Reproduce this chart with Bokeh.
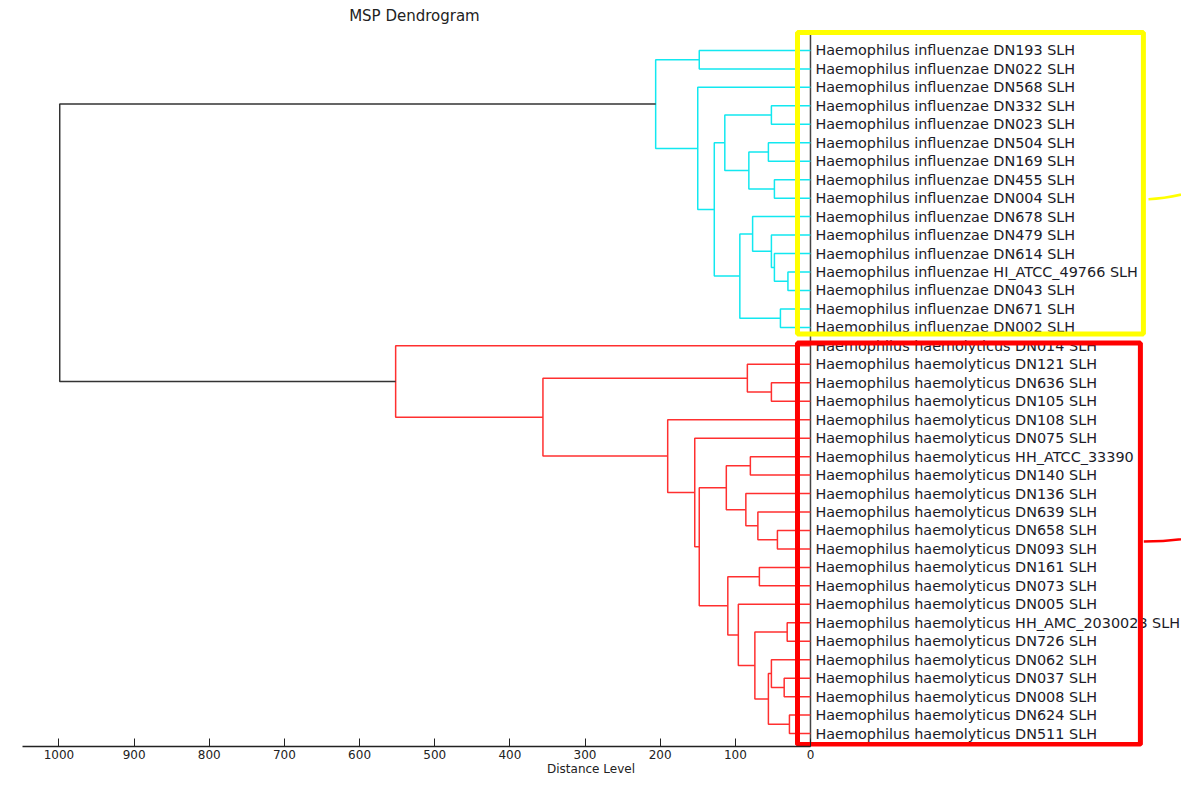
from bokeh.plotting import figure
from bokeh.models import Range1d, FixedTicker, Label, ColumnDataSource
from bokeh.core.properties import value
from bokeh.embed import file_html
from bokeh.resources import INLINE

# ---------------- data ----------------
leaf_labels = [
    "Haemophilus influenzae DN193 SLH",
    "Haemophilus influenzae DN022 SLH",
    "Haemophilus influenzae DN568 SLH",
    "Haemophilus influenzae DN332 SLH",
    "Haemophilus influenzae DN023 SLH",
    "Haemophilus influenzae DN504 SLH",
    "Haemophilus influenzae DN169 SLH",
    "Haemophilus influenzae DN455 SLH",
    "Haemophilus influenzae DN004 SLH",
    "Haemophilus influenzae DN678 SLH",
    "Haemophilus influenzae DN479 SLH",
    "Haemophilus influenzae DN614 SLH",
    "Haemophilus influenzae HI_ATCC_49766 SLH",
    "Haemophilus influenzae DN043 SLH",
    "Haemophilus influenzae DN671 SLH",
    "Haemophilus influenzae DN002 SLH",
    "Haemophilus haemolyticus DN014 SLH",
    "Haemophilus haemolyticus DN121 SLH",
    "Haemophilus haemolyticus DN636 SLH",
    "Haemophilus haemolyticus DN105 SLH",
    "Haemophilus haemolyticus DN108 SLH",
    "Haemophilus haemolyticus DN075 SLH",
    "Haemophilus haemolyticus HH_ATCC_33390",
    "Haemophilus haemolyticus DN140 SLH",
    "Haemophilus haemolyticus DN136 SLH",
    "Haemophilus haemolyticus DN639 SLH",
    "Haemophilus haemolyticus DN658 SLH",
    "Haemophilus haemolyticus DN093 SLH",
    "Haemophilus haemolyticus DN161 SLH",
    "Haemophilus haemolyticus DN073 SLH",
    "Haemophilus haemolyticus DN005 SLH",
    "Haemophilus haemolyticus HH_AMC_2030023 SLH",
    "Haemophilus haemolyticus DN726 SLH",
    "Haemophilus haemolyticus DN062 SLH",
    "Haemophilus haemolyticus DN037 SLH",
    "Haemophilus haemolyticus DN008 SLH",
    "Haemophilus haemolyticus DN624 SLH",
    "Haemophilus haemolyticus DN511 SLH",
]
# linkage (scipy convention: ids >= n_leaves refer to earlier merges)
merge_a = [0, 3, 5, 7, 40, 39, 12, 11, 10, 9, 14, 47, 43, 2, 38,
           26, 25, 24, 22, 56, 18, 17, 28, 31, 34, 33, 36, 63, 61, 30, 60, 57, 21, 20, 59, 16, 52]
merge_b = [1, 4, 6, 8, 41, 42, 13, 44, 45, 46, 15, 48, 49, 50, 51,
           27, 53, 54, 23, 55, 19, 58, 29, 32, 35, 62, 37, 64, 65, 66, 67, 68, 69, 70, 71, 72, 73]
merge_dist = [148, 52, 56, 48, 82, 114, 30, 48, 52, 77, 40, 94, 128, 150, 206,
              44, 70, 86, 80, 112, 52, 84, 68, 31, 35, 52, 28, 56, 74, 96, 110, 148, 154, 190, 356, 552, 999]
axis_ticks = [0, 100, 200, 300, 400, 500, 600, 700, 800, 900, 1000]

cluster_colors = ["#12e8f0", "#ff3030"]
root_color = "#333333"

# ---------------- geometry from linkage ----------------
n = len(leaf_labels)
node_x = {i: 0.0 for i in range(n)}
node_y = {i: float(i) for i in range(n)}
children = {}
for k, (a, b, h) in enumerate(zip(merge_a, merge_b, merge_dist)):
    nid = n + k
    node_x[nid] = h
    node_y[nid] = (node_y[a] + node_y[b]) / 2.0
    children[nid] = (a, b)

root = n + len(merge_dist) - 1
node_color = {root: root_color}


def paint(nid, col):
    node_color[nid] = col
    if nid in children:
        for c in children[nid]:
            paint(c, col)


for ci, c in enumerate(children[root]):
    if c in children:
        paint(c, cluster_colors[ci])

xs, ys, cols = [], [], []
for nid, (a, b) in children.items():
    h = node_x[nid]
    xs.append([node_x[a], h, h, node_x[b]])
    ys.append([node_y[a], node_y[a], node_y[b], node_y[b]])
    cols.append(node_color[nid])

# ---------------- figure ----------------
p = figure(width=1181, height=778, output_backend="svg", toolbar_location=None,
           x_range=Range1d(1077.8, -493.7), y_range=Range1d(37.70, -2.705),
           y_axis_location=None, min_border_left=0, min_border_right=0,
           min_border_top=0, min_border_bottom=31)
p.outline_line_color = None
p.xgrid.visible = False
p.ygrid.visible = False
p.background_fill_color = "white"
p.border_fill_color = "white"

# vertical baseline at distance 0
p.segment(x0=[0], y0=[-0.87], x1=[0], y1=[37.70], line_color="#444444", line_width=1.5)

p.multi_line(xs="xs", ys="ys", line_color="cols", line_width=1.5,
             source=ColumnDataSource(dict(xs=xs, ys=ys, cols=cols)))

p.text(x=[0] * n, y=list(range(n)), text=leaf_labels, x_offset=5,
       text_baseline="middle", text_align="left", text_font=value("DejaVu Sans"),
       text_font_size="14.4px", text_color="#1c1c28")

# highlight boxes
p.quad(left=[17.3], right=[-443], top=[-0.97], bottom=[15.36],
       fill_color=None, line_color="#ffff00", line_width=5)
p.quad(left=[17.3], right=[-439], top=[15.85], bottom=[37.59],
       fill_color=None, line_color="#ff0000", line_width=5)
p.bezier(x0=[-449.8], y0=[8.06], x1=[-516], y1=[7.57], cx0=[-480], cy0=[8.0],
         cx1=[-500], cy1=[7.75], line_color="#ffff00", line_width=2.5)
p.bezier(x0=[-443.5], y0=[26.6], x1=[-516], y1=[26.33], cx0=[-475], cy0=[26.58],
         cx1=[-500], cy1=[26.45], line_color="#ff0000", line_width=2.5)

# axis
ax = p.xaxis[0]
ax.ticker = FixedTicker(ticks=axis_ticks)
ax.bounds = (0, 1048.6)
ax.axis_line_color = "#222222"
ax.axis_line_width = 1.5
ax.major_tick_in = 8
ax.major_tick_out = 0
ax.major_tick_line_color = "#222222"
ax.minor_tick_line_color = None
ax.major_label_standoff = 3
ax.major_label_text_font = "DejaVu Sans"
ax.major_label_text_font_size = "12px"
ax.major_label_text_color = "#222222"
ax.axis_label = "Distance Level"
ax.axis_label_standoff = 0
ax.axis_label_text_font = "DejaVu Sans"
ax.axis_label_text_font_size = "12px"
ax.axis_label_text_font_style = "normal"
ax.axis_label_text_color = "#222222"

p.add_layout(Label(x=527, y=-1.89, text="MSP Dendrogram", text_align="center",
                   text_baseline="middle", text_font="DejaVu Sans",
                   text_font_size="15px", text_color="#222222"))

open("out.html", "w").write(file_html(p, INLINE))
